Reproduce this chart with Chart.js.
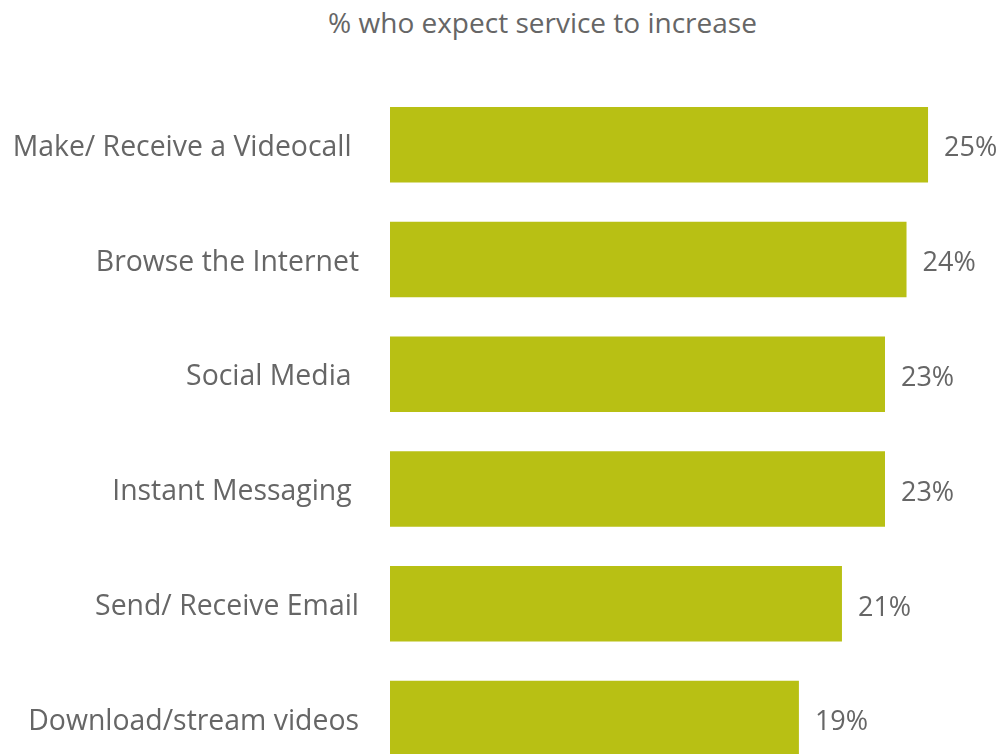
<!DOCTYPE html>
<html>
<head>
<meta charset="utf-8">
<title>% who expect service to increase</title>
<script src="https://cdn.jsdelivr.net/npm/chart.js@4"></script>
<style>
  html, body { margin: 0; padding: 0; background: #ffffff; overflow: hidden; }
  #wrap { position: relative; width: 1001px; height: 754px; overflow: hidden; }
  #title {
    position: absolute; top: 0; left: 542.5px; transform: translateX(-50%);
    font: 28px "Open Sans", sans-serif; line-height: 44px; color: #666666;
    white-space: nowrap;
  }
  #chart { position: absolute; top: 0; left: 0; }
</style>
</head>
<body>
<div id="wrap">
  <div id="title">% who expect service to increase</div>
  <canvas id="chart" width="1001" height="776"></canvas>
</div>
<script>
  // Services and the share of people expecting their use to increase
  var categories = [
    'Make/ Receive a Videocall ',
    'Browse the Internet',
    'Social Media ',
    'Instant Messaging ',
    'Send/ Receive Email',
    'Download/stream videos'
  ];
  var shares = [25, 24, 23, 23, 21, 19];
  var shareLabels = ['25%', '24%', '23%', '23%', '21%', '19%'];

  var TEXT = '#666666';
  var BAR = '#b8c014';
  var FONT = '"Open Sans", sans-serif';

  // Percentage label to the right of each bar
  var barValueLabels = {
    id: 'barValueLabels',
    afterDatasetsDraw: function(chart) {
      var ctx = chart.ctx;
      var meta = chart.getDatasetMeta(0);
      ctx.save();
      ctx.fillStyle = TEXT;
      ctx.font = '27px ' + FONT;
      ctx.textAlign = 'left';
      ctx.textBaseline = 'middle';
      meta.data.forEach(function(bar, i) {
        ctx.fillText(shareLabels[i], bar.x + 16, bar.y + 4);
      });
      ctx.restore();
    }
  };

  new Chart(document.getElementById('chart').getContext('2d'), {
    type: 'bar',
    data: {
      labels: categories,
      datasets: [{
        data: shares,
        backgroundColor: BAR,
        borderWidth: 0,
        categoryPercentage: 1,
        barPercentage: 0.658
      }]
    },
    options: {
      indexAxis: 'y',
      responsive: false,
      animation: false,
      devicePixelRatio: 1,
      layout: { padding: { top: 87.35, right: 0, bottom: 0, left: 0 } },
      plugins: {
        legend: { display: false },
        tooltip: { enabled: false }
      },
      scales: {
        x: {
          display: false,
          min: 0,
          max: 28.39
        },
        y: {
          // fixed label column; the last band runs off the bottom edge
          afterFit: function(axis) {
            axis.width = 390;
            axis.paddingTop = 0;
            axis.paddingBottom = 0;
          },
          grid: { display: false, drawTicks: false },
          border: { display: false },
          ticks: {
            color: TEXT,
            padding: 31,
            labelOffset: 3,
            font: { size: 28.4, family: FONT }
          }
        }
      }
    },
    plugins: [barValueLabels]
  });
</script>
</body>
</html>
